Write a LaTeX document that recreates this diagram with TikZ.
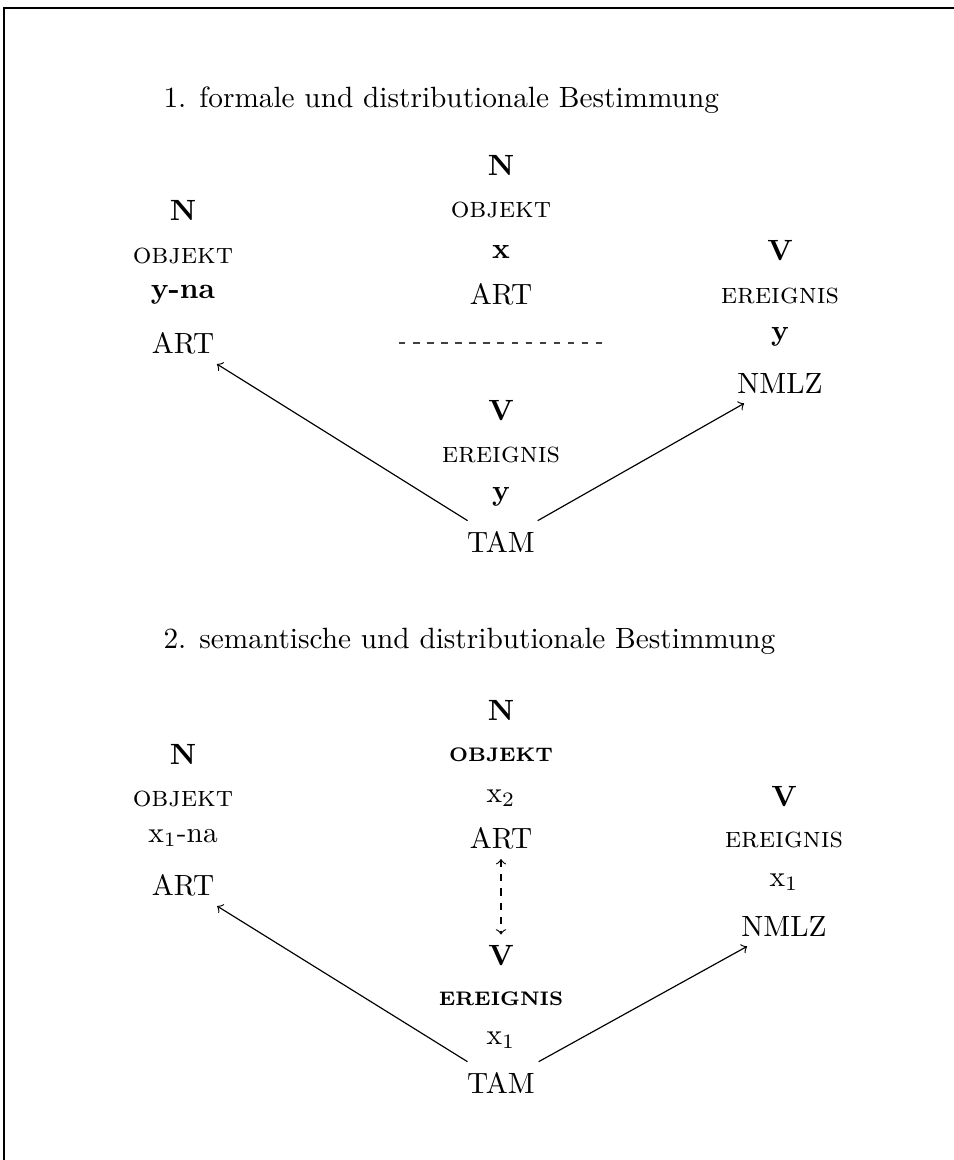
\documentclass[tikz,border=0pt]{standalone}
\usetikzlibrary{arrows}
% bold small caps, drawn as reduced bold capitals
\newcommand{\bsc}[1]{{\fontsize{6.7}{8}\selectfont\bfseries #1}}
\begin{document}
\begin{tikzpicture}[x=0.3412pt,y=-0.3412pt,
  lbl/.style={anchor=base},
  head/.style={anchor=base west,inner sep=0pt},
  link/.style={->,line width=0.4pt},
  dashlink/.style={<->,dash pattern=on 2.4pt off 2.4pt,line width=0.4pt},
  dashrule/.style={dash pattern=on 2.2pt off 2.6pt,line width=0.4pt,black!75}]
\useasboundingbox (0,0) rectangle (954,1160);
% frame
\coordinate (fr0) at (4,8);
\coordinate (fr1) at (954,8);
\coordinate (fr2) at (4,1160);
\draw[line width=0.4pt] (fr1) -- (fr0) -- (fr2);

% ---- 1. formale und distributionale Bestimmung ----
\node[head] (h1) at (163,107) {1. formale und distributionale Bestimmung};

\node[lbl] (aN)   at (183,220) {\textbf{N}};
\node[lbl] (aobj) at (183,263) {\textsc{objekt}};
\node[lbl] (ayna) at (183,298) {\textbf{y-na}};
\node[lbl] (aart) at (183,353) {ART};

\node[lbl] (bN)   at (501,175) {\textbf{N}};
\node[lbl] (bobj) at (501,217) {\textsc{objekt}};
\node[lbl] (bx)   at (501,258) {\textbf{x}};
\node[lbl] (bart) at (501,304) {ART};

\coordinate (dl0) at (399,343);
\coordinate (dl1) at (604,343);
\draw[dashrule] (dl0) -- (dl1);

\node[lbl] (cV)    at (780,260) {\textbf{V}};
\node[lbl] (cev)   at (780,303) {\textsc{ereignis}};
\node[lbl] (cy)    at (780,340) {\textbf{y}};
\node[lbl] (cnmlz) at (780,393) {NMLZ};

\node[lbl] (dV)   at (501,420) {\textbf{V}};
\node[lbl] (dev)  at (501,462) {\textsc{ereignis}};
\node[lbl] (dy)   at (501,500) {\textbf{y}};
\node[lbl] (dtam) at (501,552) {TAM};

\draw[link] (dtam) -- (aart);
\draw[link] (dtam) -- (cnmlz);

% ---- 2. semantische und distributionale Bestimmung ----
\node[head] (h2) at (163,648) {2. semantische und distributionale Bestimmung};

\node[lbl] (eN)   at (183,764) {\textbf{N}};
\node[lbl] (eobj) at (183,806) {\textsc{objekt}};
\node[lbl] (exna) at (183,842) {x$_1$-na};
\node[lbl] (eart) at (183,895) {ART};

\node[lbl] (fN)   at (501,720) {\textbf{N}};
\node[lbl] (fobj) at (501,761) {\bsc{OBJEKT}};
\node[lbl] (fx)   at (501,802) {x$_2$};
\node[lbl] (fart) at (501,848) {ART};

\node[lbl] (gV)    at (784,806) {\textbf{V}};
\node[lbl] (gev)   at (784,847) {\textsc{ereignis}};
\node[lbl] (gx)    at (784,886) {x$_1$};
\node[lbl] (gnmlz) at (784,936) {NMLZ};

\node[lbl] (hV)   at (501,965) {\textbf{V}};
\node[lbl] (hev)  at (501,1005) {\bsc{EREIGNIS}};
\node[lbl] (hx)   at (501,1044) {x$_1$};
\node[lbl] (htam) at (501,1093) {TAM};

\draw[dashlink] (fart) -- (hV);
\draw[link] (htam) -- (eart);
\draw[link] (htam) -- (gnmlz);
\end{tikzpicture}
\end{document}
